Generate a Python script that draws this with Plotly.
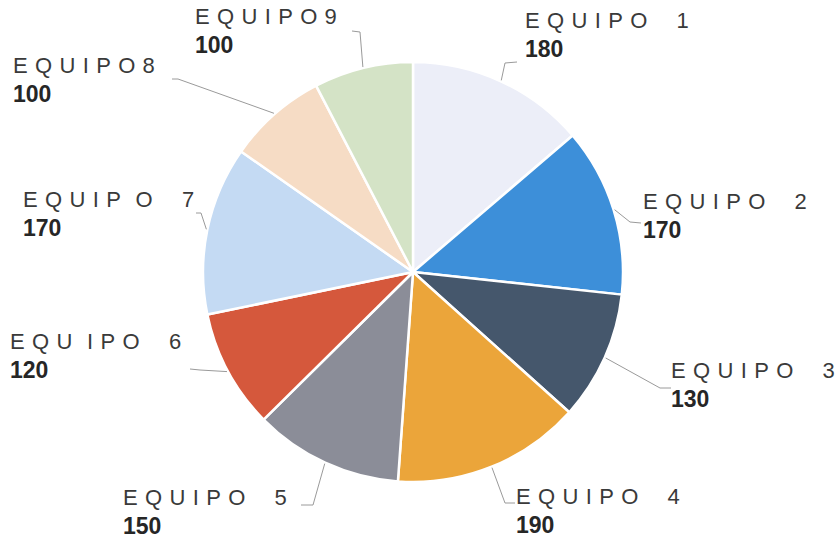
import math
import plotly.graph_objects as go

# ---- data ----
teams = ["EQUIPO 1", "EQUIPO 2", "EQUIPO 3", "EQUIPO 4", "EQUIPO 5",
         "EQUIPO 6", "EQUIPO 7", "EQUIPO 8", "EQUIPO 9"]
# label text as printed (letter-spaced)
label_text = ["E Q U I P O    1", "E Q U I P O    2", "E Q U I P O    3",
              "E Q U I P O    4", "E Q U I P O    5", "E Q U  I P O    6",
              "E Q U I P  O    7", "E Q U I P O 8", "E Q U I P O 9"]
values = [180, 170, 130, 190, 150, 120, 170, 100, 100]
colors = ["#eceef8", "#3d8fd9", "#45576c", "#eba53a", "#8b8d98",
          "#d5583c", "#c4daf3", "#f6dcc5", "#d4e3c6"]

# ---- layout geometry (pixels) ----
W, H = 839, 540
CX, CY, R = 413, 272, 210
# label block: left x, vertical middle of the two lines
label_pos = [(523, 35), (641, 216), (669, 385), (514, 511), (121, 512),
             (8, 356), (21, 214), (11, 80), (193, 31)]
# leader line elbow and end points
leader = [((505, 63), (517, 62)), ((630, 222), (641, 223)),
          ((660, 388), (671, 388)), ((505, 503), (515, 503)),
          ((313, 505), (301, 505)), ((200, 370), (190, 369)),
          ((201, 213), (196, 213)), ((178, 79), (172, 79)),
          ((360, 32), (352, 31))]


def px(x):
    return x / W


def py(y):
    return 1 - y / H


fig = go.Figure(go.Pie(
    labels=teams, values=values, sort=False, direction="clockwise",
    rotation=0, textinfo="none", hoverinfo="label+value",
    marker=dict(colors=colors, line=dict(color="white", width=2.5)),
    domain=dict(x=[px(CX - R), px(CX + R)], y=[py(CY + R), py(CY - R)]),
    showlegend=False,
))

total = sum(values)
cum = 0
shapes = []
annotations = []
for i, v in enumerate(values):
    mid = (cum + v / 2) / total * 2 * math.pi
    cum += v
    sx = CX + (R + 1) * math.sin(mid)
    sy = CY - (R + 1) * math.cos(mid)
    (ex1, ey1), (ex2, ey2) = leader[i]
    path = f"M {px(sx)},{py(sy)} L {px(ex1)},{py(ey1)} L {px(ex2)},{py(ey2)}"
    shapes.append(dict(type="path", path=path, xref="paper", yref="paper",
                       line=dict(color="#9a9a9a", width=1)))
    lx, ly = label_pos[i]
    txt = label_text[i].replace(" ", "\u2004")
    annotations.append(dict(
        x=px(lx), y=py(ly), xref="paper", yref="paper",
        xanchor="left", yanchor="middle", align="left", showarrow=False,
        text=(f"<span style='color:#3a3a3a'>{txt}</span><br>"
              f"<span style='font-size:23px;color:#262626'><b>{v}</b></span>"),
        font=dict(family="Liberation Sans, Arial, sans-serif", size=22,
                  color="#3a3a3a"),
    ))

fig.update_layout(
    width=W, height=H, margin=dict(l=0, r=0, t=0, b=0),
    paper_bgcolor="white", plot_bgcolor="white",
    shapes=shapes, annotations=annotations,
)

fig.write_html("out.html", config={"displayModeBar": False},
               post_script="document.body.style.margin='0';"
                           "document.body.style.overflow='hidden';")
